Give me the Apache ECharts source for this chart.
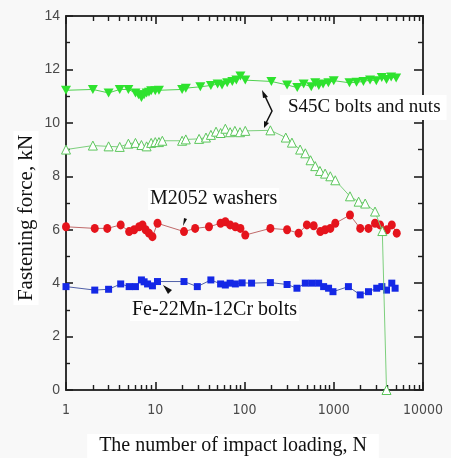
<!DOCTYPE html>
<html>
<head>
<meta charset="utf-8">
<script src="https://cdn.jsdelivr.net/npm/echarts@6/dist/echarts.min.js"></script>
<style>
  html, body { margin: 0; padding: 0; background: #f8f8f8; }
  #chart { width: 451px; height: 458px; }
</style>
</head>
<body>
<div id="chart"></div>
<script>
// Number of impact loadings (N) and fastening force (kN) for each joint type

// S45C bolts (filled down-triangles)
const boltN = [1, 2, 3, 4, 5, 6, 6.5, 7, 7.5, 8, 8.5, 9, 10, 11, 20, 22, 32, 42, 50, 56, 64, 73, 81, 90, 102, 200, 300, 390, 460, 560, 620, 680, 760, 870, 1000, 1500, 1800, 2150, 2550, 3000, 3450, 3900, 4400, 5000];
const boltF = [11.22, 11.25, 11.12, 11.25, 11.25, 11.12, 11.05, 10.95, 11.05, 11.12, 11.15, 11.2, 11.2, 11.22, 11.25, 11.3, 11.35, 11.4, 11.45, 11.42, 11.5, 11.55, 11.6, 11.75, 11.6, 11.55, 11.42, 11.32, 11.45, 11.35, 11.5, 11.4, 11.45, 11.5, 11.58, 11.5, 11.52, 11.55, 11.6, 11.58, 11.7, 11.62, 11.72, 11.68];

// S45C nuts (open triangles)
const nutN = [1, 2, 3, 4, 5, 6, 7, 8, 9, 10, 11, 12, 20, 22, 31, 37, 42, 48, 54, 61, 69, 78, 89, 102, 195, 290, 340, 420, 480, 550, 620, 700, 800, 915, 1040, 1520, 1900, 2250, 2900, 3500, 3900];
const nutF = [9.0, 9.15, 9.12, 9.1, 9.22, 9.25, 9.17, 9.12, 9.25, 9.28, 9.28, 9.33, 9.33, 9.38, 9.4, 9.45, 9.55, 9.67, 9.62, 9.78, 9.65, 9.7, 9.65, 9.7, 9.72, 9.45, 9.26, 9.0, 8.86, 8.6, 8.38, 8.2, 8.1, 8.0, 7.85, 7.25, 7.05, 6.98, 6.68, 5.95, 0];

// M2052 washers (circles)
const washerN = [1, 2.1, 2.9, 4.1, 5.1, 5.8, 6.6, 7.2, 7.8, 8.5, 9.3, 10.6, 21, 28, 40, 54, 61, 69, 79, 90, 102, 195, 300, 404, 500, 596, 707, 800, 915, 1040, 1520, 1980, 2450, 2900, 3300, 3930, 4470, 5080];
const washerF = [6.11, 6.05, 6.05, 6.18, 5.93, 6.0, 6.11, 6.18, 6.0, 5.87, 5.74, 6.24, 5.93, 6.05, 6.11, 6.24, 6.3, 6.18, 6.11, 6.05, 5.8, 6.05, 6.0, 5.87, 6.18, 6.15, 5.93, 6.0, 6.05, 6.24, 6.55, 6.05, 6.05, 6.24, 6.18, 6.0, 6.18, 5.87];

// Fe-22Mn-12Cr bolts (squares)
const feN = [1, 2.1, 3.0, 4.1, 5.1, 6, 7, 7.5, 8.2, 9.3, 10.6, 21, 29.6, 42, 54, 61, 69, 79, 94, 120, 195, 300, 387, 480, 570, 677, 770, 875, 980, 1460, 1980, 2450, 3030, 3460, 3900, 4470, 4870];
const feF = [3.87, 3.74, 3.77, 3.97, 3.87, 3.87, 4.12, 4.05, 3.97, 3.9, 4.06, 4.06, 3.87, 4.12, 3.97, 3.93, 4.0, 3.97, 4.01, 4.0, 4.02, 3.95, 3.81, 4.0, 4.0, 4.0, 3.87, 3.81, 3.68, 3.87, 3.56, 3.68, 3.81, 3.87, 3.74, 4.0, 3.81];

// Axis ticks
const xMajorTicks = [1, 10, 100, 1000, 10000];
const xTickLabels = ['1', '10', '100', '1000', '10000'];
const yMin = 0, yMax = 14, yStep = 2;

const zip = (xs, ys) => xs.map((x, i) => [x, ys[i]]);

const serif = "'Liberation Serif', 'Times New Roman', serif";
const axisColor = '#333333';
const tickColor = '#1e1e1e';
const lw = 2;

// logarithmic N axis: decade ticks plus 2..9 minor ticks, all pointing inward
const logAxis = (pos, showLabel) => ({
  type: 'log', logBase: 10, min: xMajorTicks[0], max: xMajorTicks[xMajorTicks.length - 1], splitNumber: 4, position: pos,
  axisLine: { show: true, onZero: false, lineStyle: { color: axisColor, width: lw } },
  axisTick: { show: true, inside: true, length: 8, lineStyle: { color: tickColor, width: 1.6 } },
  minorTick: { show: true, splitNumber: 9, length: 5, lineStyle: { color: tickColor, width: 1.4 } },
  axisLabel: {
    show: showLabel, margin: 13, color: '#4a4a4a', fontSize: 14,
    fontFamily: "'Liberation Sans Narrow', 'DejaVu Sans Condensed', sans-serif",
    formatter: v => {
      const i = xMajorTicks.findIndex(t => Math.abs(t - v) / t < 1e-6);
      return i >= 0 ? xTickLabels[i] : '';
    }
  },
  splitLine: { show: false },
  minorSplitLine: { show: false }
});
const yAxis = (pos, showLabel, major, minor) => ({
  type: 'value', min: yMin, max: yMax, interval: yStep, position: pos,
  axisLine: { show: true, onZero: false, lineStyle: { color: axisColor, width: lw } },
  axisTick: { show: true, inside: true, length: major, lineStyle: { color: tickColor, width: 1.6 } },
  minorTick: { show: true, splitNumber: 2, length: minor, lineStyle: { color: tickColor, width: 1.4 } },
  axisLabel: { show: showLabel, margin: 6, color: '#4a4a4a', fontSize: 14, fontFamily: "'Liberation Sans', Arial, sans-serif" },
  splitLine: { show: false },
  minorSplitLine: { show: false }
});

const chart = echarts.init(document.getElementById('chart'), null, { renderer: 'canvas' });
chart.setOption({
  backgroundColor: '#f8f8f8',
  animation: false,
  grid: { left: 66, right: 28, top: 16, bottom: 68 },
  xAxis: [logAxis('bottom', true), logAxis('top', false)],
  yAxis: [yAxis('left', true, 7, 4), yAxis('right', false, 9, 5)],
  series: [
    {
      name: 'Fe-22Mn-12Cr bolts', type: 'line', data: zip(feN, feF),
      symbol: 'rect', symbolSize: 7,
      itemStyle: { color: '#1428e6' },
      lineStyle: { color: '#5060a8', width: 1 }, z: 2
    },
    {
      name: 'M2052 washers', type: 'line', data: zip(washerN, washerF),
      symbol: 'circle', symbolSize: [8, 9],
      itemStyle: { color: '#e5141c' },
      lineStyle: { color: '#c06a6a', width: 1 }, z: 3
    },
    {
      name: 'S45C bolts', type: 'line', data: zip(boltN, boltF),
      symbol: 'triangle', symbolRotate: 180, symbolSize: [10, 9],
      itemStyle: { color: '#2ee22e' },
      lineStyle: { color: '#4fd24f', width: 1 }, z: 4
    },
    {
      name: 'S45C nuts', type: 'line', data: zip(nutN, nutF),
      symbol: 'triangle', symbolSize: [9, 9],
      itemStyle: { color: '#ffffff', borderColor: '#5cc65c', borderWidth: 1 },
      lineStyle: { color: '#7ccf7c', width: 1 }, z: 5
    }
  ],
  graphic: [
    // brace with two arrowheads
    { type: 'polyline', z: 20, shape: { points: [[264, 94], [272, 111], [266, 123]] }, style: { stroke: '#111', lineWidth: 1.5, fill: null } },
    { type: 'polygon', z: 20, shape: { points: [[262, 90], [268, 97], [263, 98]] }, style: { fill: '#111' } },
    { type: 'polygon', z: 20, shape: { points: [[264, 128], [264, 121], [269, 123]] }, style: { fill: '#111' } },
    {
      type: 'text', z: 20, left: 280, top: 95,
      style: { text: 'S45C bolts and nuts', font: '19px ' + serif, fill: '#111', backgroundColor: '#ffffff', padding: [3, 6, 3, 8] }
    },
    {
      type: 'text', z: 20, left: 148, top: 188,
      style: { text: 'M2052 washers', font: '20px ' + serif, fill: '#111', backgroundColor: '#ffffff', padding: [1, 2] }
    },
    { type: 'polygon', z: 20, shape: { points: [[184, 218], [187, 219], [183, 226]] }, style: { fill: '#111' } },
    {
      type: 'text', z: 20, left: 130, top: 299,
      style: { text: 'Fe-22Mn-12Cr bolts', font: '20px ' + serif, fill: '#111', backgroundColor: '#ffffff', padding: [1, 2] }
    },
    { type: 'polygon', z: 20, shape: { points: [[163, 285], [172, 290], [168, 294]] }, style: { fill: '#111' } },
    {
      type: 'text', z: 20, x: 26, y: 218, rotation: Math.PI / 2,
      style: { text: 'Fastening force, kN', font: '21px ' + serif, fill: '#111', align: 'center', verticalAlign: 'middle', backgroundColor: '#ffffff', padding: [2, 4] }
    },
    {
      type: 'text', z: 20, x: 233, y: 446,
      style: { text: 'The number of impact loading, N', font: '20px ' + serif, fill: '#111', align: 'center', verticalAlign: 'middle', backgroundColor: '#ffffff', padding: [2, 12] }
    }
  ]
});
</script>
</body>
</html>
